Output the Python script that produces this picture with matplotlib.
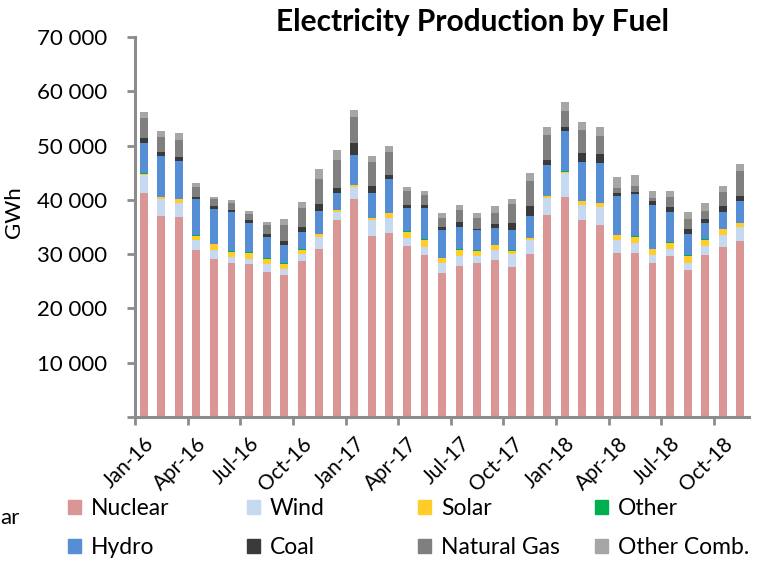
import matplotlib
matplotlib.use("Agg")
import matplotlib.pyplot as plt
from matplotlib.patches import Patch
from matplotlib.ticker import FixedLocator, FuncFormatter
import numpy as np

months = ["Jan-16", "Feb-16", "Mar-16", "Apr-16", "May-16", "Jun-16", "Jul-16", "Aug-16",
          "Sep-16", "Oct-16", "Nov-16", "Dec-16", "Jan-17", "Feb-17", "Mar-17", "Apr-17",
          "May-17", "Jun-17", "Jul-17", "Aug-17", "Sep-17", "Oct-17", "Nov-17", "Dec-17",
          "Jan-18", "Feb-18", "Mar-18", "Apr-18", "May-18", "Jun-18", "Jul-18", "Aug-18",
          "Sep-18", "Oct-18", "Nov-18"]

nuclear = [41300, 37100, 36900, 30800, 29100, 28300, 28100, 26800, 26200, 28700, 30900, 36300,
           40200, 33400, 33900, 31500, 29800, 26600, 27900, 28300, 29000, 27700, 30000, 37200,
           40500, 36200, 35400, 30300, 30300, 28400, 29700, 27100, 29800, 31400, 32400]
wind = [3300, 3000, 2500, 1800, 1700, 1200, 1000, 1300, 1000, 1400, 2300, 1500,
        2100, 2800, 2800, 1500, 1600, 1700, 1800, 1400, 1800, 2300, 2600, 3200,
        4400, 2800, 3200, 2300, 1700, 1400, 1200, 1200, 1700, 2200, 2600]
solar = [200, 400, 700, 800, 1000, 900, 1200, 1000, 1000, 700, 500, 300,
         400, 400, 800, 1100, 1200, 900, 1100, 900, 800, 600, 300, 300,
         300, 700, 800, 900, 1200, 1100, 1200, 1400, 1100, 1000, 700]
other = [100, 100, 100, 100, 100, 100, 100, 100, 100, 100, 100, 100,
         100, 100, 100, 100, 100, 100, 100, 100, 100, 100, 100, 100,
         100, 100, 100, 100, 100, 100, 100, 100, 100, 100, 100]
hydro = [5600, 7400, 6900, 6600, 6500, 7300, 5400, 4000, 3400, 3100, 4200, 3100,
         5400, 4600, 6300, 4300, 5800, 5100, 4100, 3700, 3200, 3800, 4000, 5600,
         7300, 7200, 7300, 7200, 7700, 8000, 5500, 4000, 3100, 3100, 4000]
coal = [900, 800, 800, 500, 400, 400, 500, 500, 800, 1000, 1300, 900,
        2200, 1300, 600, 600, 600, 600, 1000, 300, 700, 1200, 1800, 1000,
        900, 1700, 1600, 500, 500, 800, 900, 900, 700, 1000, 900]
natural_gas = [3600, 2700, 3200, 1800, 1300, 1300, 1100, 1600, 2900, 3500, 4600, 5100,
               4800, 4300, 4300, 2500, 1800, 1600, 2100, 1900, 2000, 3500, 4600, 4600,
               2800, 4100, 3300, 800, 1100, 600, 1900, 1700, 1500, 2600, 4600]
other_comb = [1200, 1100, 1200, 700, 500, 400, 600, 600, 1000, 1100, 1700, 1800,
              1300, 1100, 1200, 800, 800, 900, 900, 900, 1200, 1000, 1600, 1400,
              1700, 1600, 1700, 2100, 1900, 1300, 1200, 1300, 1500, 1100, 1300]

series = [
    ("Nuclear", nuclear, "#D99694"),
    ("Wind", wind, "#C6D9F1"),
    ("Solar", solar, "#FFCC29"),
    ("Other", other, "#00B050"),
    ("Hydro", hydro, "#558ED5"),
    ("Coal", coal, "#3A3A3A"),
    ("Natural Gas", natural_gas, "#7F7F7F"),
    ("Other Comb.", other_comb, "#A6A6A6"),
]

FONT = "Lato"
plt.rcParams["font.family"] = [FONT, "DejaVu Sans"]

fig = plt.figure(figsize=(7.64, 5.65), dpi=100)
ax = fig.add_axes([135 / 764, 1 - 417 / 565, (749 - 135) / 764, (417 - 37) / 565])

x = np.arange(len(months))
bottom = np.zeros(len(months))
for name, vals, col in series:
    v = np.array(vals, dtype=float)
    ax.bar(x, v, width=0.45, bottom=bottom, color=col, label=name, linewidth=0)
    bottom += v

ax.set_xlim(-0.5, len(months) - 0.5)
ax.set_ylim(0, 70000)

axis_col = "#8C8C8C"
for s in ["top", "right"]:
    ax.spines[s].set_visible(False)
for s in ["left", "bottom"]:
    ax.spines[s].set_color(axis_col)
    ax.spines[s].set_linewidth(2.2)

ax.yaxis.set_major_locator(FixedLocator(np.arange(0, 70001, 10000)))
ax.yaxis.set_major_formatter(FuncFormatter(lambda v, p: "" if v == 0 else f"{int(v):,}".replace(",", " ")))
ax.tick_params(axis="y", direction="out", length=6, width=2, color=axis_col, labelsize=16, pad=14)

ax.set_xticks(x[::3])
ax.set_xticklabels(months[::3], rotation=45, ha="right", va="top", rotation_mode="anchor")
ax.tick_params(axis="x", which="major", length=0, labelsize=15, pad=12)
ax.set_xticks(np.arange(-0.5, len(months) - 1, 3), minor=True)
ax.tick_params(axis="x", which="minor", direction="out", length=6, width=2, color=axis_col)

fig.text(472 / 764, 1 - 22 / 565, "Electricity Production by Fuel", ha="center", va="center",
         fontsize=21.5, fontweight="bold")
fig.text(14 / 764, 1 - 212 / 565, "GWh", rotation=90, ha="center", va="center", fontsize=16)
fig.text(0.5 / 764, 1 - 518 / 565, "ar", ha="left", va="center", fontsize=16)

handles = [Patch(color=c) for _, _, c in series]
labels = [n for n, _, _ in series]
col_x = [68, 247, 418, 595]
for c in range(4):
    leg = fig.legend([handles[c], handles[c + 4]], [labels[c], labels[c + 4]],
                     loc="upper left", bbox_to_anchor=(col_x[c] / 764, 1 - 498 / 565),
                     frameon=False, fontsize=16.5, ncol=1, borderpad=0, borderaxespad=0,
                     handlelength=0.55, handleheight=0.55, handletextpad=0.45, labelspacing=0.78)

fig.savefig("out.png", dpi=100)
